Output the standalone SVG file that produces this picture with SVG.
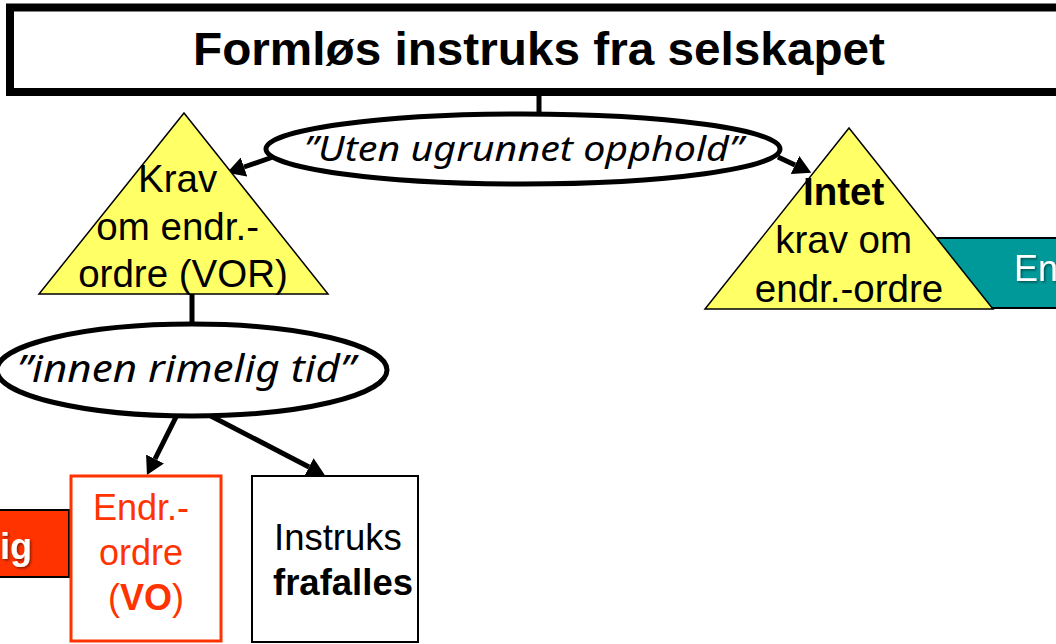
<svg xmlns="http://www.w3.org/2000/svg" width="1056" height="644" viewBox="0 0 1056 644">
  <style>
    .tri { fill: #FFFF66; stroke: #000; stroke-width: 1.5; }
    .oval { fill: #fff; stroke: #000; stroke-width: 5; }
    .conn { stroke: #000; stroke-width: 5; fill: none; }
    .arrow { stroke: #000; stroke-width: 5; fill: none; marker-end: url(#ah); }
    .sans { font-family: "Liberation Sans", Arial, sans-serif; }
    .hand { font-family: "Noto Sans", "DejaVu Sans", sans-serif; font-style: italic; }
    .shadow { filter: url(#ds); }
  </style>
  <defs>
    <marker id="ah" viewBox="0 0 18 20" markerUnits="userSpaceOnUse" markerWidth="18" markerHeight="20" refX="0" refY="10" orient="auto">
      <path d="M0,0 L18,10 L0,20 z" fill="#000"/>
    </marker>
    <filter id="ds" x="-20%" y="-20%" width="140%" height="140%">
      <feDropShadow dx="1.5" dy="1.5" stdDeviation="0.8" flood-color="#000" flood-opacity="0.45"/>
    </filter>
  </defs>

  <rect width="1056" height="644" fill="#fff"/>

  <g id="title">
    <rect x="10" y="7.5" width="1070" height="84.5" fill="#fff" stroke="#000" stroke-width="8"/>
    <text x="539" y="65" class="sans" font-size="47" font-weight="bold" text-anchor="middle" textLength="692" lengthAdjust="spacingAndGlyphs">Formløs instruks fra selskapet</text>
  </g>

  <g id="connectors">
    <line class="conn" x1="539" y1="94" x2="539" y2="115"/>
    <line class="conn" x1="192" y1="294" x2="192" y2="325"/>
    <line class="arrow" x1="273" y1="157" x2="244" y2="167"/>
    <line class="arrow" x1="778" y1="157" x2="795" y2="165"/>
    <line class="arrow" x1="176" y1="417" x2="155" y2="459"/>
    <line class="arrow" x1="207" y1="414" x2="309" y2="467"/>
  </g>

  <g id="oval-uten">
    <ellipse class="oval" cx="523" cy="149" rx="257" ry="35"/>
    <text x="304" y="161" class="hand" font-size="34" textLength="439" lengthAdjust="spacingAndGlyphs">”Uten ugrunnet opphold”</text>
  </g>

  <g id="tri-krav">
    <polygon class="tri" points="184,113 328,294 39,294"/>
    <text class="sans" font-size="38.5" text-anchor="middle">
      <tspan x="183" y="192">Krav</tspan>
      <tspan x="183" y="240">om endr.-</tspan>
      <tspan x="183" y="287">ordre (VOR)</tspan>
    </text>
  </g>

  <g id="box-en">
    <rect x="900" y="238" width="170" height="70" fill="#009999" stroke="#000" stroke-width="2"/>
    <text x="1014" y="281" class="sans shadow" font-size="36" fill="#fff">En</text>
  </g>

  <g id="tri-intet">
    <polygon class="tri" points="849,128 993,309 705,309"/>
    <text class="sans" font-size="38.5" text-anchor="middle">
      <tspan x="849" y="205" font-weight="bold">Intet</tspan>
      <tspan x="849" y="253">krav om</tspan>
      <tspan x="849" y="302">endr.-ordre</tspan>
    </text>
  </g>

  <g id="oval-innen">
    <ellipse class="oval" cx="192" cy="370" rx="195" ry="46"/>
    <text x="17" y="382" class="hand" font-size="38" textLength="338" lengthAdjust="spacingAndGlyphs">”innen rimelig tid”</text>
  </g>

  <g id="box-ig">
    <rect x="-10" y="510" width="79" height="67" fill="#FF3300" stroke="#000" stroke-width="2"/>
    <text x="32" y="559" class="sans shadow" font-size="36" font-weight="bold" fill="#fff" text-anchor="end">ig</text>
  </g>

  <g id="box-vo">
    <rect x="71" y="476" width="150" height="165" fill="#fff" stroke="#FF3300" stroke-width="3"/>
    <text class="sans" font-size="36" fill="#FF3300" text-anchor="middle">
      <tspan x="146" y="520">Endr.-</tspan>
      <tspan x="146" y="565">ordre</tspan>
      <tspan x="146" y="610">(<tspan font-weight="bold">VO</tspan>)</tspan>
    </text>
  </g>

  <g id="box-instruks">
    <rect x="252" y="476" width="166" height="166" fill="#fff" stroke="#000" stroke-width="2"/>
    <text class="sans" font-size="36.5" text-anchor="middle">
      <tspan x="343" y="550">Instruks</tspan>
      <tspan x="343" y="595" font-weight="bold">frafalles</tspan>
    </text>
  </g>
</svg>
